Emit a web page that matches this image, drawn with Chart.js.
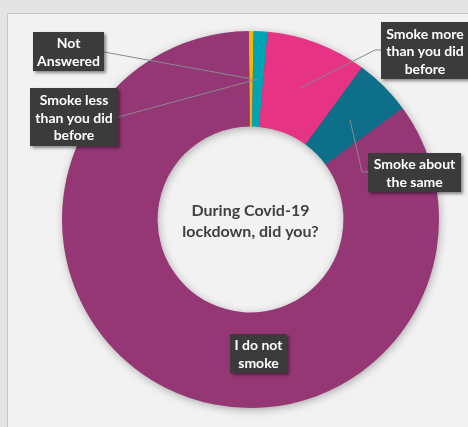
<!DOCTYPE html>
<html>
<head>
<meta charset="utf-8">
<script src="https://cdn.jsdelivr.net/npm/chart.js@4/dist/chart.umd.min.js"></script>
<style>
    html, body { margin: 0; padding: 0; background: #e4e4e4; }
    #wrap { width: 468px; height: 427px; position: relative; }
</style>
</head>
<body>
<div id="wrap"><canvas id="smokeChart" width="468" height="427"></canvas></div>
<script>
// ================= DATA =================

const categories = [
    "Not Answered",
    "Smoke less than you did before",
    "Smoke more than you did before",
    "Smoke about the same",
    "I do not smoke"
];

// share of answers (%)
const percentages = [0.4, 1.2, 8.6, 4.9, 84.9];

const sliceColors = ["#f2b800", "#00a5b3", "#e63383", "#0d6f89", "#943774"];

// how each data label is broken into lines
const labelLines = [
    ["Not", "Answered"],
    ["Smoke less", "than you did", "before"],
    ["Smoke more", "than you did", "before"],
    ["Smoke about", "the same"],
    ["I do not", "smoke"]
];

const centerLines = ["During Covid-19", "lockdown, did you?"];


// ================= PLUGINS =================

// Panel background (grey frame with lighter plot panel)
const panelBackground = {
    id: "panelBackground",
    beforeDraw(chart) {
        const { ctx, width, height } = chart;
        ctx.save();
        ctx.fillStyle = "#e4e4e4";
        ctx.fillRect(0, 0, width, height);
        ctx.fillStyle = "#f2f2f2";
        ctx.fillRect(7, 13, width, height);
        ctx.strokeStyle = "#c6c6c6";
        ctx.lineWidth = 1;
        ctx.beginPath();
        ctx.moveTo(7.5, height);
        ctx.lineTo(7.5, 13.5);
        ctx.lineTo(width, 13.5);
        ctx.stroke();
        ctx.restore();
    }
};

// Soft shadow under the ring
const ringShadow = {
    id: "ringShadow",
    beforeDatasetsDraw(chart) {
        const { ctx } = chart;
        const arc = chart.getDatasetMeta(0).data[0];
        ctx.save();
        ctx.shadowColor = "rgba(0,0,0,0.35)";
        ctx.shadowBlur = 10;
        ctx.shadowOffsetX = 1;
        ctx.shadowOffsetY = 2;
        ctx.fillStyle = "#943774";
        ctx.beginPath();
        ctx.arc(arc.x, arc.y, arc.outerRadius - 1, 0, Math.PI * 2);
        ctx.arc(arc.x, arc.y, arc.innerRadius + 1, 0, Math.PI * 2, true);
        ctx.fill();
        ctx.restore();
    }
};

// Question text in the hole
const centerText = {
    id: "centerText",
    afterDatasetsDraw(chart) {
        const { ctx } = chart;
        const arc = chart.getDatasetMeta(0).data[0];
        ctx.save();
        ctx.fillStyle = "#404040";
        ctx.font = "bold 16px Lato";
        ctx.textAlign = "center";
        ctx.textBaseline = "middle";
        ctx.fillText(centerLines[0], arc.x, arc.y - 9);
        ctx.fillText(centerLines[1], arc.x, arc.y + 12);
        ctx.restore();
    }
};

// Dark callout boxes with leader lines to each slice
const calloutLabels = {
    id: "calloutLabels",
    afterDatasetsDraw(chart, args, opts) {
        const { ctx } = chart;
        const arcs = chart.getDatasetMeta(0).data;

        ctx.save();

        // leader lines first
        ctx.strokeStyle = "#8a8a8a";
        ctx.lineWidth = 1;
        opts.boxes.forEach((box, i) => {
            if (!box.leader) return;
            const anchor = arcs[i].tooltipPosition();
            ctx.beginPath();
            ctx.moveTo(box.leader[0][0], box.leader[0][1]);
            box.leader.slice(1).forEach(p => ctx.lineTo(p[0], p[1]));
            ctx.lineTo(anchor.x, anchor.y);
            ctx.stroke();
        });

        // boxes and text
        opts.boxes.forEach((box, i) => {
            ctx.save();
            ctx.shadowColor = "rgba(0,0,0,0.45)";
            ctx.shadowBlur = 3;
            ctx.shadowOffsetX = 2;
            ctx.shadowOffsetY = 2;
            ctx.fillStyle = "#3b3b3b";
            ctx.fillRect(box.x, box.y, box.w, box.h);
            ctx.restore();

            const lines = labelLines[i];
            const lineH = 17.5;
            const cx = box.x + box.w / 2;
            const top = box.y + box.h / 2 - (lines.length - 1) * lineH / 2;
            ctx.fillStyle = "#ffffff";
            ctx.font = "bold 14px Lato";
            ctx.textAlign = "center";
            ctx.textBaseline = "middle";
            lines.forEach((line, k) => {
                ctx.fillText(line, cx, top + k * lineH + 1);
            });
        });

        ctx.restore();
    }
};


// ================= CHART =================

new Chart(
    document.getElementById("smokeChart"),
    {
        type: "doughnut",

        data: {
            labels: categories,
            datasets: [
                {
                    data: percentages,
                    backgroundColor: sliceColors,
                    borderWidth: 0
                }
            ]
        },

        options: {
            responsive: false,
            animation: false,
            rotation: -0.5,
            cutout: "49.3%",
            layout: {
                padding: { left: 62, right: 29, top: 31, bottom: 19 }
            },
            plugins: {
                legend: { display: false },
                tooltip: { enabled: false },
                calloutLabels: {
                    boxes: [
                        { x: 33, y: 32, w: 71, h: 39, leader: [[104, 52]] },
                        { x: 30, y: 88, w: 88, h: 58, leader: [[118, 117]] },
                        { x: 381, y: 22, w: 88, h: 57, leader: [[381, 50], [375, 50]] },
                        { x: 368, y: 153, w: 93, h: 39, leader: [[368, 172], [362, 172]] },
                        { x: 230, y: 334, w: 57, h: 39 }
                    ]
                }
            }
        },

        plugins: [
            panelBackground,
            ringShadow,
            centerText,
            calloutLabels
        ]
    }
);
</script>
</body>
</html>
